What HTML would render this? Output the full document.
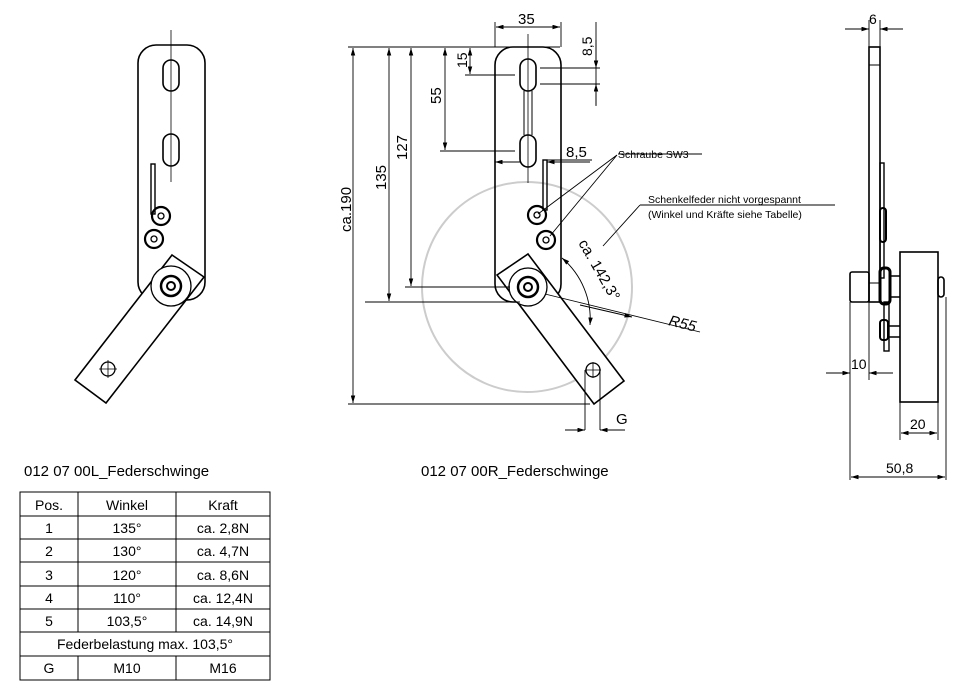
<!DOCTYPE html>
<html><head><meta charset="utf-8"><style>
body{margin:0;background:#fff;width:975px;height:692px;overflow:hidden}
svg{position:absolute;left:0;top:0}
text{font-family:"Liberation Sans",sans-serif;fill:#000}
</style></head><body>
<svg width="975" height="692" viewBox="0 0 975 692" fill="none" stroke="#000" stroke-width="1.3">
<defs><marker id="a" viewBox="0 0 10 6" refX="10" refY="3" markerWidth="9" markerHeight="5" orient="auto-start-reverse"><path d="M0,0L10,3L0,6z" fill="#000" stroke="none"/></marker></defs>
<!-- LEFT VIEW -->
<rect x="138" y="45" width="67" height="255" rx="18" stroke-width="1.6"/>
<line x1="171" y1="30" x2="171" y2="182" stroke-width="0.8"/>
<rect x="163" y="60" width="16" height="31" rx="8" stroke-width="1.6"/>
<rect x="163" y="134" width="16" height="32" rx="8" stroke-width="1.6"/>
<rect x="151" y="164" width="4" height="50" stroke-width="1.4"/>
<circle cx="161" cy="216" r="9" stroke-width="2.2"/><circle cx="161" cy="216" r="3"/>
<circle cx="154" cy="239" r="9" stroke-width="2.2"/><circle cx="154" cy="239" r="3"/>
<polygon points="172,255 204,277 106,403 75,380" fill="#fff" stroke-width="1.6"/>
<circle cx="171" cy="286" r="20" fill="#fff"/><circle cx="171" cy="286" r="10" stroke-width="2.5"/><circle cx="171" cy="286" r="4" stroke-width="2"/>
<circle cx="108" cy="369" r="7"/><path d="M99,369h18M108,360v18" stroke-width="0.8"/>
<text x="24" y="476" font-size="15" stroke="none">012 07 00L_Federschwinge</text>
<!-- MIDDLE VIEW -->
<circle cx="527" cy="287" r="105" stroke="#ccc" stroke-width="2"/>
<rect x="495" y="47" width="66" height="255" rx="18" stroke-width="1.6"/>
<line x1="528" y1="34" x2="528" y2="183" stroke-width="0.8"/>
<rect x="520" y="59" width="16" height="32" rx="8" stroke-width="1.6"/>
<rect x="520" y="135" width="16" height="32" rx="8" stroke-width="1.6"/>
<path d="M524,91V135M532,91V135" stroke-width="1"/>
<rect x="543" y="160" width="4" height="50" stroke-width="1.4"/>
<circle cx="537" cy="215" r="9" stroke-width="2.2"/><circle cx="537" cy="215" r="3"/>
<circle cx="546" cy="240" r="9" stroke-width="2.2"/><circle cx="546" cy="240" r="3"/>
<polygon points="497,275 528,254 624,381 594,404" fill="#fff" stroke-width="1.6"/>
<circle cx="528" cy="287" r="19" fill="#fff"/><circle cx="528" cy="287" r="10" stroke-width="2.5"/><circle cx="528" cy="287" r="4" stroke-width="2"/>
<circle cx="593" cy="370" r="7"/><path d="M585,370h16M593,362v16" stroke-width="0.8"/>
<g stroke-width="0.9">
<path d="M348,47H560M365,302H520M405,287H510M440,151H515M465,75H515"/>
<line x1="353" y1="48" x2="353" y2="403" marker-start="url(#a)" marker-end="url(#a)"/>
<path d="M348,404H590"/>
<line x1="389" y1="48" x2="389" y2="301" marker-start="url(#a)" marker-end="url(#a)"/>
<line x1="411" y1="48" x2="411" y2="286" marker-start="url(#a)" marker-end="url(#a)"/>
<line x1="445" y1="48" x2="445" y2="150" marker-start="url(#a)" marker-end="url(#a)"/>
<line x1="470" y1="48" x2="470" y2="74" marker-start="url(#a)" marker-end="url(#a)"/>
<path d="M495,22V47M561,22V47"/>
<line x1="496" y1="27" x2="560" y2="27" marker-start="url(#a)" marker-end="url(#a)"/>
<path d="M540,68H600M540,84H600M596,22V106"/>
<line x1="596" y1="40" x2="596" y2="68" marker-end="url(#a)"/>
<line x1="596" y1="105" x2="596" y2="84" marker-end="url(#a)"/>
<line x1="495" y1="162" x2="520" y2="162" marker-start="url(#a)"/>
<line x1="590" y1="162" x2="547" y2="162" marker-end="url(#a)"/><path d="M547,160H592"/>
<path d="M585,370V430M600,370V430"/>
<line x1="565" y1="430" x2="585" y2="430" marker-end="url(#a)"/>
<line x1="625" y1="430" x2="600" y2="430" marker-end="url(#a)"/>
<path d="M618,154H702M617,155L538,214M617,155L550,236"/>
<path d="M640,205H835M640,205L603,246"/>
<path d="M562,258A80,80 0 0,1 590,325" marker-start="url(#a)" marker-end="url(#a)"/>
<path d="M545,294L700,332"/>
<line x1="580" y1="305" x2="632" y2="317" marker-end="url(#a)"/>
</g>
<text font-size="15" stroke="none" x="518" y="24">35</text>
<text font-size="15" stroke="none" transform="translate(351,232) rotate(-90)">ca.190</text>
<text font-size="15" stroke="none" transform="translate(386,190) rotate(-90)">135</text>
<text font-size="15" stroke="none" transform="translate(407,160) rotate(-90)">127</text>
<text font-size="15" stroke="none" transform="translate(441,104) rotate(-90)">55</text>
<text font-size="14" stroke="none" transform="translate(467,68) rotate(-90)">15</text>
<text font-size="14" stroke="none" transform="translate(592,56) rotate(-90)">8,5</text>
<text font-size="15" stroke="none" x="566" y="157">8,5</text>
<text font-size="15" stroke="none" x="616" y="424">G</text>
<text font-size="15" stroke="none" font-style="italic" x="668" y="325" transform="rotate(14 668 325)">R55</text>
<text font-size="15" stroke="none" transform="translate(578,243) rotate(60)">ca. 142,3°</text>
<text font-size="10.5" stroke="none" x="618" y="158">Schraube SW3</text>
<text font-size="10.5" stroke="none" x="648" y="203">Schenkelfeder nicht vorgespannt</text>
<text font-size="10.5" stroke="none" x="648" y="218">(Winkel und Kräfte siehe Tabelle)</text>
<text x="421" y="476" font-size="15" stroke="none">012 07 00R_Federschwinge</text>
<!-- RIGHT VIEW -->
<rect x="869" y="47" width="11" height="255" stroke-width="1.6"/>
<path d="M869,65H880M869,283H880" stroke-width="1"/>
<rect x="880" y="163" width="4" height="115" stroke-width="1.4"/>
<rect x="880" y="208" width="6" height="34" rx="3" stroke-width="2"/>
<rect x="880" y="268" width="10" height="36" rx="4" stroke-width="3"/>
<rect x="850" y="272" width="19" height="30" rx="2" stroke-width="1.6"/>
<rect x="884" y="302" width="5" height="49" stroke-width="1.4"/>
<rect x="880" y="320" width="8" height="20" rx="3" stroke-width="2"/>
<path d="M889,276H900M889,297H900M889,326H900M889,337H900" stroke-width="1.4"/>
<rect x="900" y="252" width="38" height="150" stroke-width="1.6"/>
<rect x="938" y="277" width="6" height="20" rx="3" stroke-width="1.6"/>
<g stroke-width="0.9">
<path d="M869,20V47M880,20V47M850,302V480M869,302V380M900,402V440M938,402V440M946,297V480"/>
<line x1="845" y1="29" x2="869" y2="29" marker-end="url(#a)"/>
<line x1="903" y1="29" x2="880" y2="29" marker-end="url(#a)"/>
<line x1="826" y1="373" x2="850" y2="373" marker-end="url(#a)"/>
<line x1="893" y1="373" x2="869" y2="373" marker-end="url(#a)"/>
<line x1="901" y1="433" x2="937" y2="433" marker-start="url(#a)" marker-end="url(#a)"/>
<line x1="851" y1="477" x2="945" y2="477" marker-start="url(#a)" marker-end="url(#a)"/>
</g>
<text font-size="14" stroke="none" x="869" y="24">6</text>
<text font-size="14" stroke="none" x="851" y="369">10</text>
<text font-size="14" stroke="none" x="910" y="429">20</text>
<text font-size="14" stroke="none" x="886" y="473">50,8</text>
<!-- TABLE -->
<g stroke-width="1">
<rect x="20" y="492" width="250" height="188"/>
<path d="M20,516H270M20,539H270M20,562H270M20,586H270M20,609H270M20,632H270M20,656H270"/>
<path d="M78,492V632M176,492V632M78,656V680M176,656V680"/>
</g>
<g font-size="14" stroke="none" text-anchor="middle">
<text x="49" y="510">Pos.</text><text x="127" y="510">Winkel</text><text x="223" y="510">Kraft</text>
<text x="49" y="533">1</text><text x="127" y="533">135°</text><text x="223" y="533">ca. 2,8N</text>
<text x="49" y="556">2</text><text x="127" y="556">130°</text><text x="223" y="556">ca. 4,7N</text>
<text x="49" y="580">3</text><text x="127" y="580">120°</text><text x="223" y="580">ca. 8,6N</text>
<text x="49" y="603">4</text><text x="127" y="603">110°</text><text x="223" y="603">ca. 12,4N</text>
<text x="49" y="626">5</text><text x="127" y="626">103,5°</text><text x="223" y="626">ca. 14,9N</text>
<text x="145" y="649">Federbelastung max. 103,5°</text>
<text x="49" y="673">G</text><text x="127" y="673">M10</text><text x="223" y="673">M16</text>
</g>
</svg>
</body></html>
